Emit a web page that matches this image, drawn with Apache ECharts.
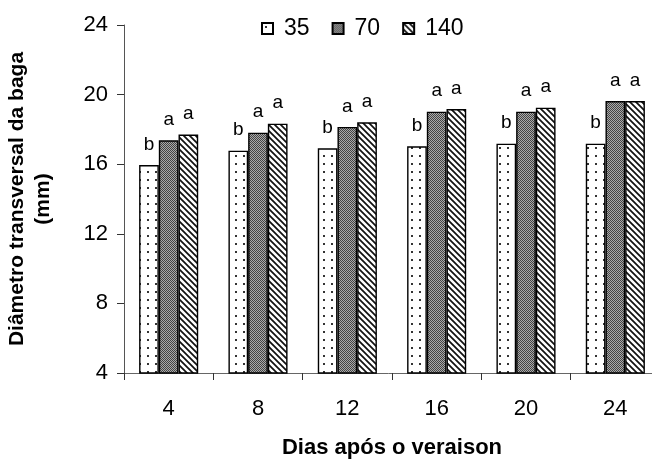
<!DOCTYPE html>
<html>
<head>
<meta charset="utf-8">
<script src="https://cdn.jsdelivr.net/npm/echarts@6/dist/echarts.min.js"></script>
<style>
  html, body { margin: 0; padding: 0; background: #fff; }
  #chart { width: 652px; height: 463px; }
</style>
</head>
<body>
<div id="chart"></div>
<script>
// Days after veraison
var categories = ['4', '8', '12', '16', '20', '24'];
// Berry transverse diameter (mm) per dose
var seriesNames = ['35', '70', '140'];
var values35  = [15.95, 16.78, 16.91, 17.03, 17.18, 17.18];
var values70  = [17.37, 17.81, 18.14, 19.02, 19.02, 19.63];
var values140 = [17.70, 18.33, 18.41, 19.17, 19.25, 19.63];
// Significance letters
var letters35  = ['b', 'b', 'b', 'b', 'b', 'b'];
var letters70  = ['a', 'a', 'a', 'a', 'a', 'a'];
var letters140 = ['a', 'a', 'a', 'a', 'a', 'a'];
var yTicks = [4, 8, 12, 16, 20, 24];

var FONT = 'Liberation Sans, Arial, sans-serif';

function makeTile(w, h, draw) {
  var c = document.createElement('canvas');
  c.width = w; c.height = h;
  var ctx = c.getContext('2d');
  ctx.fillStyle = '#fff';
  ctx.fillRect(0, 0, w, h);
  draw(ctx);
  return c;
}
// sparse dots
var dotTile = makeTile(8, 8, function (ctx) {
  ctx.fillStyle = '#333';
  ctx.fillRect(3, 3, 2, 2);
});
// fine grey checker
var checkTile = makeTile(2, 2, function (ctx) {
  ctx.fillStyle = '#aaa';
  ctx.fillRect(0, 0, 2, 2);
  ctx.fillStyle = '#444';
  ctx.fillRect(0, 0, 1, 1);
  ctx.fillRect(1, 1, 1, 1);
});
// diagonal hatching "\"
var hatchTile = makeTile(6, 6, function (ctx) {
  ctx.strokeStyle = '#111';
  ctx.lineWidth = 1.7;
  ctx.beginPath();
  ctx.moveTo(-1, -1); ctx.lineTo(7, 7);
  ctx.moveTo(-1, 5); ctx.lineTo(1, 7);
  ctx.moveTo(5, -1); ctx.lineTo(7, 1);
  ctx.stroke();
});

var fills = [
  { image: dotTile, repeat: 'repeat' },
  { image: checkTile, repeat: 'repeat' },
  { image: hatchTile, repeat: 'repeat' }
];
var dataSets = [values35, values70, values140];
var letterSets = [letters35, letters70, letters140];

var series = seriesNames.map(function (name, i) {
  return {
    name: name,
    type: 'bar',
    barWidth: 19.7,
    barGap: '0%',
    data: dataSets[i],
    itemStyle: { color: fills[i], borderColor: '#000', borderWidth: 1.4 },
    label: {
      show: true,
      position: 'top',
      distance: 11,
      fontFamily: FONT,
      fontSize: 19,
      color: '#000',
      formatter: function (p) { return letterSets[i][p.dataIndex]; }
    }
  };
});

var chart = echarts.init(document.getElementById('chart'), null, { renderer: 'canvas' });
chart.setOption({
  animation: false,
  backgroundColor: '#fff',
  textStyle: { fontFamily: FONT },
  legend: {
    top: 17,
    left: 261,
    padding: 0,
    itemWidth: 11,
    itemHeight: 11,
    itemGap: 22,
    icon: 'rect',
    textStyle: { fontSize: 23, color: '#000', padding: [0, 0, 0, 6] },
    data: seriesNames
  },
  // the last category group runs up to the right edge of the canvas
  grid: { left: 124, top: 25, bottom: 90, width: 536, containLabel: false, outerBoundsMode: 'none' },
  xAxis: {
    type: 'category',
    data: categories,
    name: 'Dias após o veraison',
    nameLocation: 'middle',
    nameGap: 64,
    nameTextStyle: { fontSize: 22, fontWeight: 'bold', color: '#000' },
    axisLine: { lineStyle: { color: '#666', width: 1 } },
    axisTick: { show: true, length: 7, lineStyle: { color: '#333' } },
    axisLabel: { fontSize: 22, color: '#000', margin: 25 }
  },
  yAxis: {
    type: 'value',
    min: yTicks[0],
    max: yTicks[yTicks.length - 1],
    interval: 4,
    name: 'Diâmetro transversal da baga\n(mm)',
    nameLocation: 'middle',
    nameGap: 68,
    nameTextStyle: { fontSize: 21, fontWeight: 'bold', color: '#000', lineHeight: 26 },
    axisLine: { show: true, lineStyle: { color: '#555', width: 1 } },
    axisTick: { show: true, length: 7, lineStyle: { color: '#333' } },
    splitLine: { show: false },
    axisLabel: { fontSize: 22, color: '#000', margin: 16 }
  },
  series: series
});
</script>
</body>
</html>
